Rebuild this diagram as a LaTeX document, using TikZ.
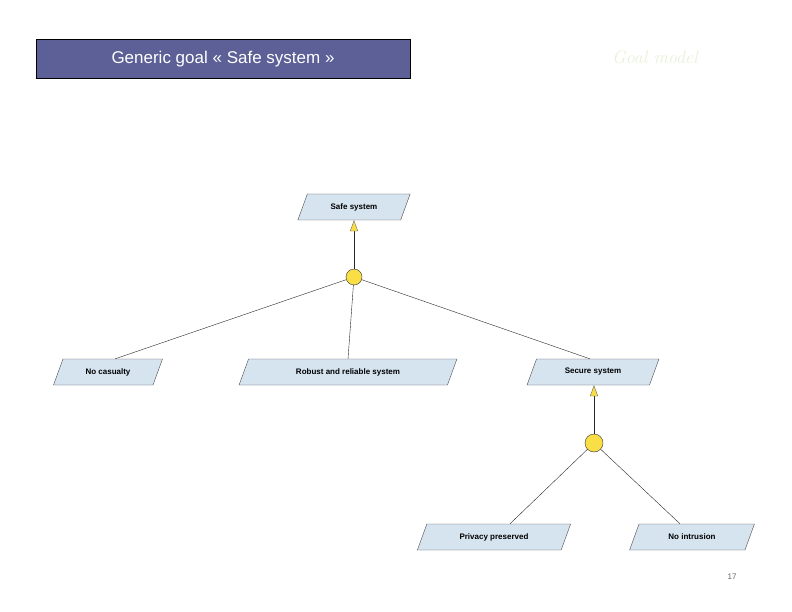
\documentclass[tikz,border=0pt]{standalone}
\usepackage{fontspec}
\setsansfont{Liberation Sans}
\usetikzlibrary{shapes.geometric,arrows.meta}
\definecolor{goalfill}{RGB}{214,228,240}
\definecolor{titlefill}{RGB}{92,96,150}
\definecolor{andyellow}{RGB}{250,222,70}
\definecolor{modelgreen}{RGB}{232,240,216}
\begin{document}
\begin{tikzpicture}[x=1pt,y=-1pt,
	goal/.style={trapezium, trapezium left angle=70, trapezium right angle=110,
		draw=black!70, fill=goalfill, minimum height=26pt, inner xsep=2pt,
		font=\sffamily\bfseries\fontsize{8}{9}\selectfont},
	refine/.style={draw=black!80, fill=andyellow, circle, minimum size=16pt, inner sep=0pt},
	link/.style={black!85, thin},
	up/.style={link, -{Triangle[width=8pt,length=11pt,fill=andyellow,color=black!60]}}]

	\useasboundingbox (0,0) rectangle (792,612);

	% title
	\node[draw=black, thick, fill=titlefill, text=white, minimum width=374pt, minimum height=39pt,
		font=\sffamily\fontsize{17}{20}\selectfont] (title) at (223,59) {Generic goal « Safe system »};
	\node[text=modelgreen, font=\itshape\fontsize{18}{20}\selectfont] (model) at (655,57) {Goal model};

	% goals
	\node[goal, minimum width=90pt] (safe) at (354,207) {Safe system};
	\node[goal, minimum width=86pt] (nocas) at (108,372) {No casualty};
	\node[goal, minimum width=192pt] (robust) at (348,372) {Robust and reliable system};
	\node[goal, minimum width=106pt] (secure) at (593,372) {Secure system};
	\node[goal, minimum width=130pt] (privacy) at (494,537) {Privacy preserved};
	\node[goal, minimum width=90pt] (nointr) at (692,537) {No intrusion};

	% refinements
	\node[refine] (r1) at (354,277) {};
	\node[refine, minimum size=18pt] (r2) at (594,443) {};

	\draw[up] (r1) -- (safe.south -| r1);
	\draw[up] (r2) -- (secure.south -| r2);
	\draw[link] (nocas.north east) ++(-6,0) coordinate (a1) -- (r1);
	\draw[link] (robust.north) -- (r1);
	\draw[link] (secure.north west) ++(10,0) coordinate (a3) -- (r1);
	\draw[link] (privacy.north) ++(16,0) coordinate (a4) -- (r2);
	\draw[link] (nointr.north) ++(-12,0) coordinate (a5) -- (r2);

	\node[text=black!60, font=\sffamily\fontsize{8}{9}\selectfont] (page) at (732,577) {17};
\end{tikzpicture}
\end{document}
